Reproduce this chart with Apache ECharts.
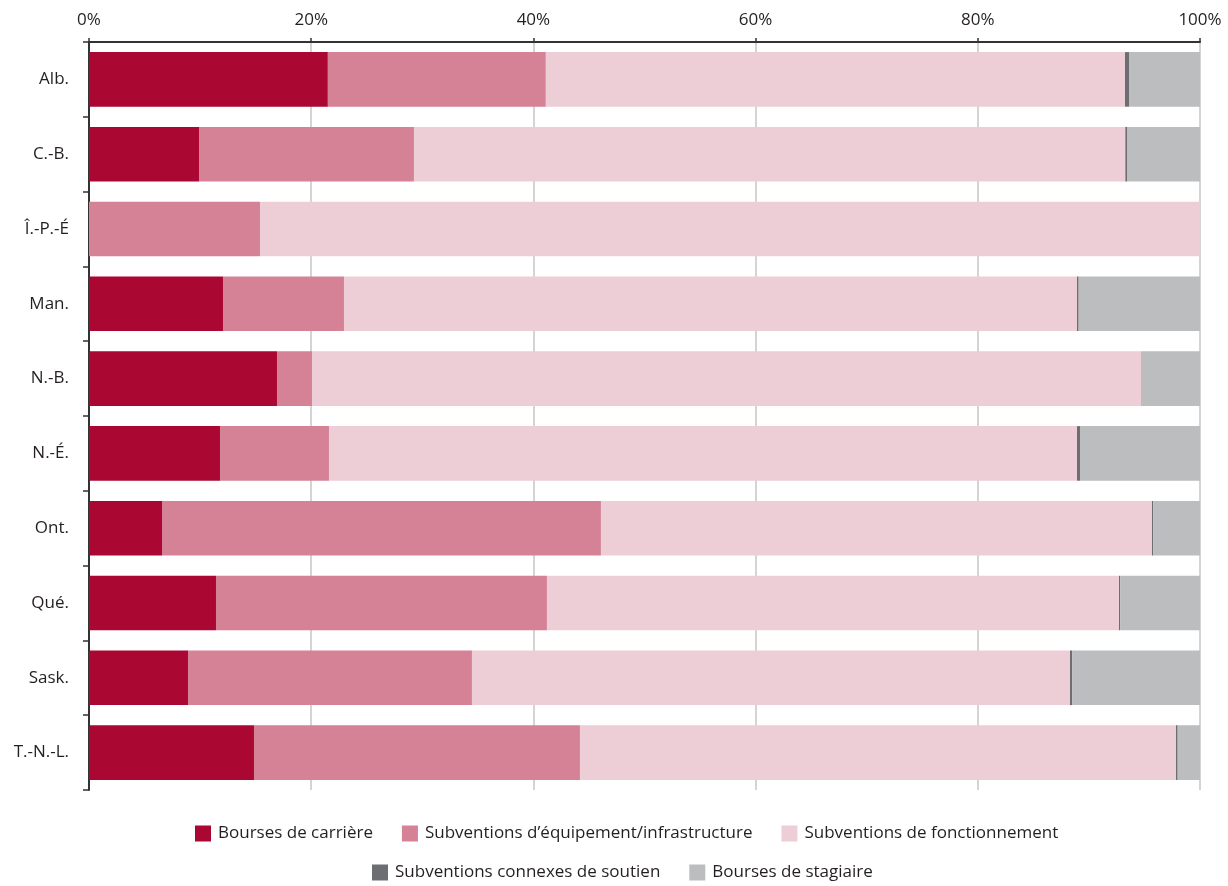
<!DOCTYPE html>
<html><head><meta charset="utf-8">
<script src="https://cdn.jsdelivr.net/npm/echarts@6/dist/echarts.min.js"></script>
<style>html,body{margin:0;padding:0;background:#fff}#c{width:1228px;height:886px}</style>
</head><body><div id="c"></div>
<script>
const categories = ["Alb.", "C.-B.", "Î.-P.-É", "Man.", "N.-B.", "N.-É.", "Ont.", "Qué.", "Sask.", "T.-N.-L."];
const seriesNames = ["Bourses de carrière", "Subventions d’équipement/infrastructure", "Subventions de fonctionnement", "Subventions connexes de soutien", "Bourses de stagiaire"];
const boursesCarriere   = [21.5,  9.9,  0.0, 12.06, 16.92, 11.79,  6.57, 11.43,  8.91, 14.85];
const equipement        = [19.62, 19.35, 15.39, 10.89, 3.15,  9.81, 39.51, 29.79, 25.56, 29.34];
const fonctionnement    = [52.13, 64.03, 84.61, 65.98, 74.62, 67.33, 49.6,  51.49, 53.83, 53.65];
const connexes          = [0.36,  0.15,  0.0,  0.15,  0.0,   0.27,  0.12,  0.1,   0.2,   0.15];
const stagiaire         = [6.39,  6.57,  0.0,  10.92, 5.31,  10.8,  4.2,   7.19,  11.5,  2.01];
const xTicks = [0, 20, 40, 60, 80, 100];
const colors = ["#AA0733", "#D58196", "#EDCDD6", "#6D6E71", "#BCBDBF"];
const values = [boursesCarriere, equipement, fonctionnement, connexes, stagiaire];

const font = "'Open Sans', sans-serif";
const chart = echarts.init(document.getElementById('c'), null, {renderer: 'canvas'});
chart.setOption({
  animation: false,
  color: colors,
  grid: {left: 89, right: 28, top: 42, bottom: 96, containLabel: false},
  legend: [
    {data: seriesNames.slice(0, 3), top: 825, left: 195, itemWidth: 16, itemHeight: 16, itemGap: 29, icon: 'rect', padding: 0,
     textStyle: {fontFamily: font, fontSize: 17, color: '#231F20', padding: [0, 0, 0, 2]}},
    {data: seriesNames.slice(3), top: 864, left: 372, itemWidth: 16, itemHeight: 16, itemGap: 29, icon: 'rect', padding: 0,
     textStyle: {fontFamily: font, fontSize: 17, color: '#231F20', padding: [0, 0, 0, 2]}}
  ],
  xAxis: {
    type: 'value', position: 'top', min: 0, max: 100, interval: 20,
    axisLine: {show: true, lineStyle: {color: '#333', width: 2}},
    axisTick: {show: true, length: 4, lineStyle: {color: '#333', width: 1.5}},
    axisLabel: {margin: 13, fontFamily: font, fontSize: 17, color: '#231F20',
      formatter: v => xTicks.includes(v) ? v + '%' : ''},
    splitLine: {show: true, lineStyle: {color: '#C6C6C6', width: 1.5}}
  },
  yAxis: {
    type: 'category', data: categories, inverse: true,
    axisLine: {show: true, lineStyle: {color: '#333', width: 2}},
    axisTick: {show: true, length: 6, lineStyle: {color: '#333', width: 1.5}},
    axisLabel: {margin: 20, fontFamily: font, fontSize: 17, color: '#231F20'}
  },
  series: seriesNames.map((n, i) => ({
    name: n, type: 'bar', stack: 'total', data: values[i],
    barCategoryGap: '27%', itemStyle: {color: colors[i]}
  }))
});
</script></body></html>
